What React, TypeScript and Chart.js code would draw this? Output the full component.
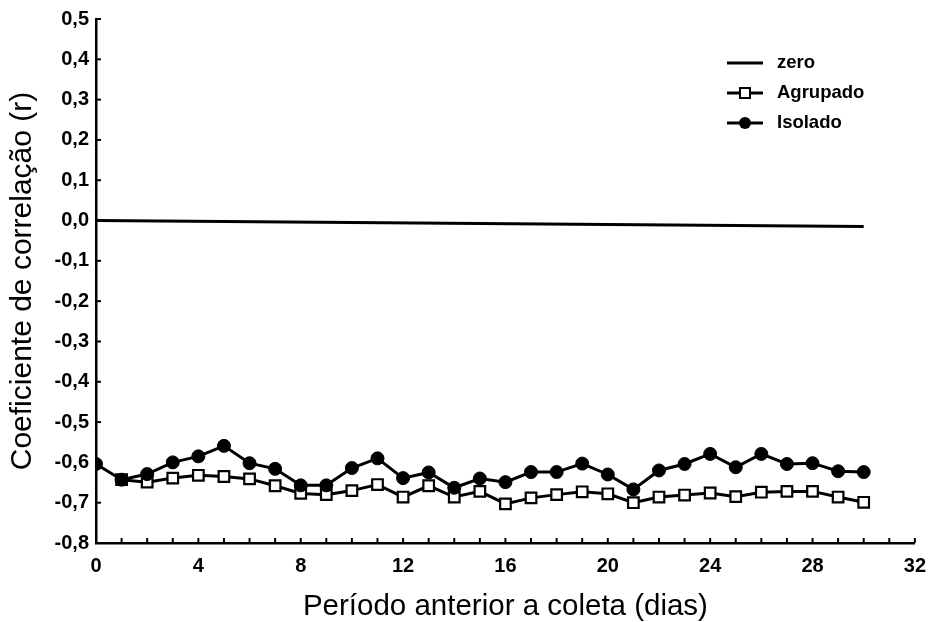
import React, { useEffect, useRef } from "react";
import { Chart, registerables } from "chart.js";

Chart.register(...registerables);

const days = [0, 1, 2, 3, 4, 5, 6, 7, 8, 9, 10, 11, 12, 13, 14, 15, 16, 17, 18, 19, 20, 21, 22, 23, 24, 25, 26, 27, 28, 29, 30];
const isolado = [-0.604, -0.643, -0.629, -0.600, -0.585, -0.559, -0.602, -0.616, -0.657, -0.657, -0.614, -0.590, -0.639, -0.625, -0.663, -0.640, -0.649, -0.624, -0.624, -0.603, -0.630, -0.667, -0.620, -0.604, -0.579, -0.612, -0.579, -0.604, -0.602, -0.622, -0.624];
const agrupado = [null, -0.643, -0.649, -0.639, -0.632, -0.635, -0.641, -0.658, -0.677, -0.680, -0.670, -0.655, -0.686, -0.658, -0.686, -0.672, -0.703, -0.688, -0.680, -0.673, -0.678, -0.700, -0.686, -0.681, -0.676, -0.685, -0.674, -0.672, -0.672, -0.686, -0.699];
const zeroDays = [0, 30];
const zeroValues = [0.0, -0.015];
const legendLabels = ["zero", "Agrupado", "Isolado"];
const xTitle = "Período anterior a coleta (dias)";
const yTitle = "Coeficiente de correlação (r)";

const FONT = "'Liberation Sans', Arial, Helvetica, sans-serif";

const fmt = (v: number) => {
  if (Math.abs(v) < 1e-9) return "0,0";
  return v.toFixed(1).replace(".", ",");
};

const innerTicks = {
  id: "innerTicks",
  afterDraw(chart: any) {
    const { ctx, chartArea, scales } = chart;
    ctx.save();
    ctx.strokeStyle = "#000";
    ctx.lineWidth = 2;
    for (let v = -8; v <= 5; v++) {
      const y = scales.y.getPixelForValue(v / 10);
      ctx.beginPath();
      ctx.moveTo(chartArea.left, y);
      ctx.lineTo(chartArea.left + 5, y);
      ctx.stroke();
    }
    for (let d = 0; d <= 32; d++) {
      const x = scales.x.getPixelForValue(d);
      ctx.beginPath();
      ctx.moveTo(x, chartArea.bottom);
      ctx.lineTo(x, chartArea.bottom - 5);
      ctx.stroke();
    }
    ctx.restore();
  },
};

const customLegend = {
  id: "customLegend",
  afterDraw(chart: any) {
    const { ctx } = chart;
    const x0 = 727;
    const x1 = 763;
    const xm = 745;
    const tx = 777;
    const rows = [63, 93, 123];
    ctx.save();
    ctx.strokeStyle = "#000";
    ctx.fillStyle = "#000";
    ctx.lineWidth = 3;
    rows.forEach((y, i) => {
      ctx.beginPath();
      ctx.moveTo(x0, y);
      ctx.lineTo(x1, y);
      ctx.stroke();
      if (i === 1) {
        ctx.fillStyle = "#fff";
        ctx.lineWidth = 2;
        ctx.fillRect(xm - 5, y - 5, 10, 10);
        ctx.strokeRect(xm - 5, y - 5, 10, 10);
        ctx.lineWidth = 3;
      } else if (i === 2) {
        ctx.fillStyle = "#000";
        ctx.beginPath();
        ctx.arc(xm, y, 6, 0, Math.PI * 2);
        ctx.fill();
      }
      ctx.fillStyle = "#000";
      ctx.font = `bold 18.5px ${FONT}`;
      ctx.textBaseline = "middle";
      ctx.textAlign = "left";
      ctx.fillText(legendLabels[i], tx, y);
    });
    ctx.restore();
  },
};

export default function App() {
  const ref = useRef<HTMLCanvasElement | null>(null);

  useEffect(() => {
    if (!ref.current) return;
    const chart = new Chart(ref.current, {
      type: "line",
      data: {
        datasets: [
          {
            label: legendLabels[2],
            data: days.map((d, i) => ({ x: d, y: isolado[i] })),
            borderColor: "#000",
            backgroundColor: "#000",
            borderWidth: 3,
            pointStyle: "circle",
            pointRadius: 6.5,
            pointBorderWidth: 1,
            pointBackgroundColor: "#000",
            pointBorderColor: "#000",
            order: 1,
          },
          {
            label: legendLabels[1],
            data: days.map((d, i) => ({ x: d, y: agrupado[i] })),
            borderColor: "#000",
            backgroundColor: "#fff",
            borderWidth: 3,
            pointStyle: "rect",
            pointRadius: 7.5,
            pointBorderWidth: 2.2,
            pointBackgroundColor: "#fff",
            pointBorderColor: "#000",
            spanGaps: false,
            order: 2,
          },
          {
            label: legendLabels[0],
            data: zeroDays.map((d, i) => ({ x: d, y: zeroValues[i] })),
            borderColor: "#000",
            borderWidth: 3,
            pointRadius: 0,
            order: 3,
          },
        ],
      },
      options: {
        responsive: false,
        animation: false,
        layout: { padding: { top: 16, right: 16, left: 0, bottom: 0 } },
        plugins: {
          legend: { display: false },
          tooltip: { enabled: false },
        },
        scales: {
          x: {
            type: "linear",
            min: 0,
            max: 32,
            border: { display: true, color: "#000", width: 2.5 },
            grid: { display: true, drawOnChartArea: false, drawTicks: false },
            ticks: {
              stepSize: 4,
              color: "#000",
              padding: 11,
              maxRotation: 0,
              font: { family: FONT, size: 20, weight: "bold" },
              callback: (v: any) => String(v),
            },
            title: {
              display: true,
              text: xTitle,
              color: "#000",
              font: { family: FONT, size: 29.5, lineHeight: 1 },
              padding: { top: 0, bottom: 0 },
            },
            afterFit: (scale: any) => {
              scale.height = 79;
            },
          },
          y: {
            type: "linear",
            min: -0.8,
            max: 0.5,
            border: { display: true, color: "#000", width: 2.5 },
            grid: { display: true, drawOnChartArea: false, drawTicks: false },
            ticks: {
              stepSize: 0.1,
              color: "#000",
              padding: 7,
              font: { family: FONT, size: 20, weight: "bold" },
              callback: (v: any) => fmt(Number(v)),
            },
            title: {
              display: true,
              text: yTitle,
              color: "#000",
              font: { family: FONT, size: 30, lineHeight: 1 },
              padding: { top: 8, bottom: 0 },
            },
            afterFit: (scale: any) => {
              scale.width = 96;
            },
          },
        },
      },
      plugins: [innerTicks, customLegend],
    });
    return () => chart.destroy();
  }, []);

  return (
    <div style={{ position: "absolute", left: 0, top: 0, width: 937, height: 622, background: "#fff" }}>
      <canvas ref={ref} width={937} height={622} />
    </div>
  );
}
